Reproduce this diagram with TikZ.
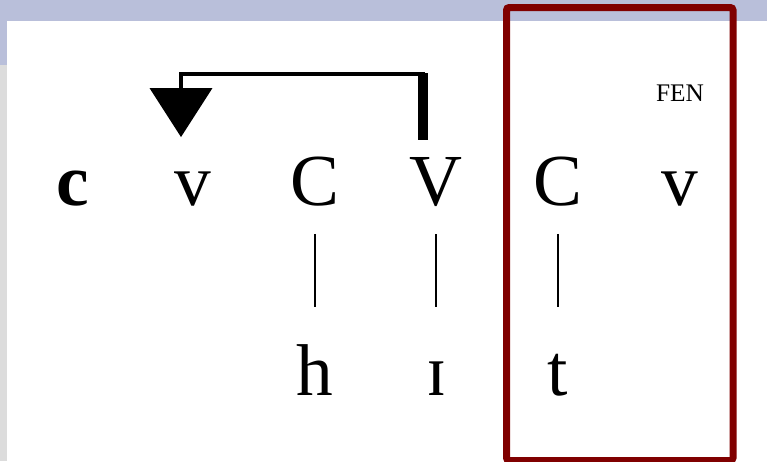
\documentclass[tikz,border=0pt]{standalone}
\usepackage{fontspec}
\setmainfont{Liberation Serif}
\usepackage{tikz}
\usetikzlibrary{arrows.meta}
\usepackage{xcolor}
\definecolor{slidebar}{HTML}{B9BFDA}
\definecolor{slidegray}{HTML}{DCDCDC}
\definecolor{boxred}{HTML}{800000}

\begin{document}
\begin{tikzpicture}[
    x=0.75pt, y=-0.75pt,
    seg/.style={anchor=base, inner sep=0pt, font=\fontsize{55}{60}\selectfont},
    tag/.style={anchor=base, inner sep=0pt, font=\fontsize{19}{22}\selectfont},
    assoc/.style={line width=1.2pt, shorten <=21pt, shorten >=28pt},
    link/.style={line width=3pt, -{Triangle[width=46.5pt, length=36.75pt]}},
    highlight/.style={draw=boxred, line width=5.25pt, rounded corners=2pt}
]
    % Background
    \useasboundingbox (0,0) rectangle (767,461);
    \fill[white] (0,0) rectangle (767,461);
    \fill[slidebar] (0,0) rectangle (767,21);
    \fill[slidebar] (0,0) rectangle (7,65);
    \fill[slidegray] (0,65) rectangle (7,461);

    % Skeleton
    \node[seg] (c) at (73,205) {\textbf{c}};
    \node[seg] (v1) at (193,205) {v};
    \node[seg] (C1) at (315,205) {C};
    \node[seg] (V1) at (436,205) {V};
    \node[seg] (C2) at (558,205) {C};
    \node[seg] (v2) at (680,205) {v};
    \node[tag] (fen) at (680,101) {FEN};

    % Melody
    \node[seg] (h) at (315,395) {h};
    \node[seg] (ih) at (437,395) {ɪ};
    \node[seg] (t) at (558,395) {t};

    % Associations
    \draw[assoc] (C1.south) -- (h.north);
    \draw[assoc] (V1.south) -- (V1.south |- h.north);
    \draw[assoc] (C2.south) -- (C2.south |- h.north);

    % Spreading
    \draw[line width=7.5pt] ([xshift=-9.75pt, yshift=12.75pt]V1.north) -- ++(0,-67);
    \draw[link] ([xshift=-9.75pt, yshift=12.75pt]V1.north) -- ++(0,-66) -| ([xshift=-9pt, yshift=25.5pt]v1.north);

    % Highlight
    \draw[highlight] (506.5,7.5) rectangle (733,460.5);
\end{tikzpicture}
\end{document}
